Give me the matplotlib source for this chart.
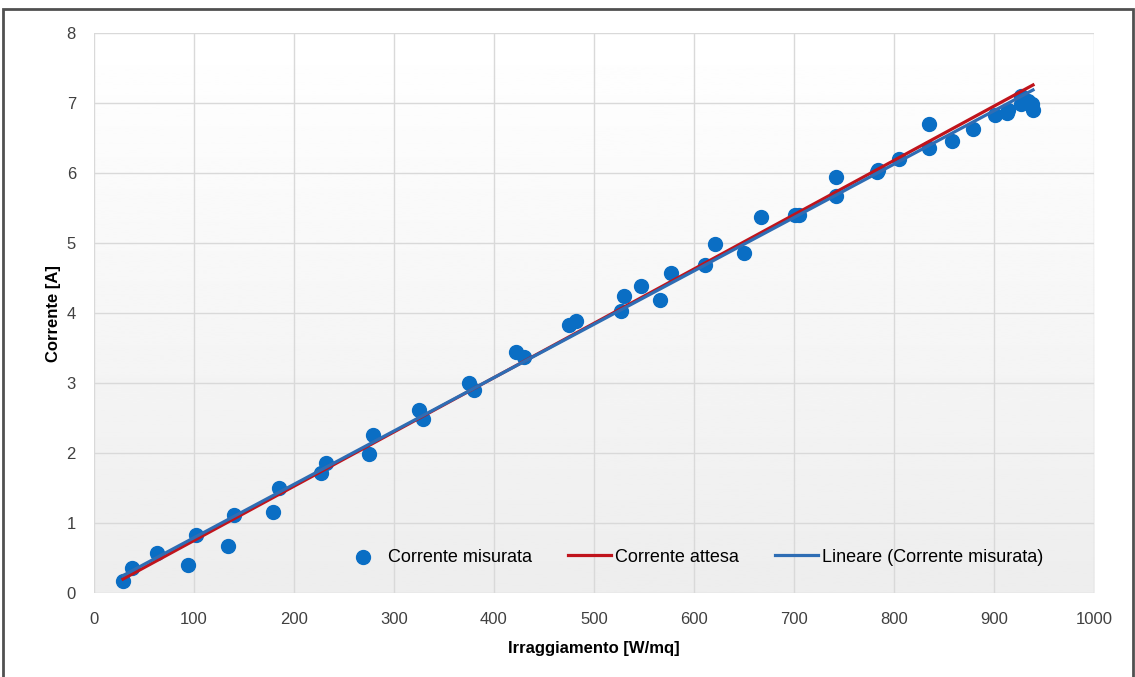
import numpy as np
import matplotlib.pyplot as plt
from matplotlib.patches import Rectangle

plt.rcParams['font.family'] = ['Liberation Sans', 'DejaVu Sans']

# Irraggiamento [W/mq] e corrente misurata [A]
irr = [29, 38, 63, 94, 102, 134, 140, 179, 185, 227, 232, 275, 279, 325, 329,
       375, 380, 422, 430, 475, 482, 527, 530, 547, 566, 577, 611, 621, 650,
       667, 701, 705, 742, 742, 783, 784, 805, 835, 835, 858, 879, 901, 913,
       914, 927, 927, 934, 938, 939]
corr = [0.17, 0.36, 0.57, 0.40, 0.83, 0.67, 1.11, 1.16, 1.50, 1.71, 1.86, 1.99,
        2.26, 2.61, 2.49, 3.00, 2.90, 3.44, 3.37, 3.83, 3.89, 4.03, 4.24, 4.39,
        4.19, 4.57, 4.69, 4.99, 4.86, 5.37, 5.40, 5.40, 5.67, 5.94, 6.01, 6.04,
        6.20, 6.36, 6.70, 6.46, 6.63, 6.83, 6.86, 6.90, 7.10, 6.99, 7.03, 6.99,
        6.90]

# corrente attesa (estremi della retta)
att_x = [29, 939]
att_y = [0.20, 7.26]

xticks = [0, 100, 200, 300, 400, 500, 600, 700, 800, 900, 1000]
yticks = [0, 1, 2, 3, 4, 5, 6, 7, 8]

fig = plt.figure(figsize=(11.35, 6.77), dpi=100)
ax = fig.add_axes([0.0828, 0.124, 0.8811, 0.827])

# sfondo sfumato (bianco in alto, grigio in basso)
grad = np.linspace(1.0, 0.93, 256).reshape(-1, 1)
ax.imshow(grad, cmap='gray', vmin=0, vmax=1, aspect='auto',
          extent=[0, 1, 0, 1], transform=ax.transAxes, zorder=0)

ax.set_xlim(0, 1000)
ax.set_ylim(0, 8)
ax.set_xticks(xticks)
ax.set_yticks(yticks)
ax.grid(True, color='#d9d9d9', linewidth=1)
ax.set_axisbelow(True)
for s in ax.spines.values():
    s.set_visible(False)
ax.tick_params(length=0, labelsize=12, colors='#404040')
ax.tick_params(axis='x', pad=14)
ax.tick_params(axis='y', pad=13)

ax.scatter(irr, corr, s=100, color='#0a6ec4', zorder=3, label='Corrente misurata')
ax.plot(att_x, att_y, color='#c0141c', linewidth=2.3, zorder=4, label='Corrente attesa')

# linea di tendenza
k, q = np.polyfit(irr, corr, 1)
xs = np.array([min(irr), max(irr)])
ax.plot(xs, k * xs + q, color='#2e6db4', linewidth=2.3, zorder=5,
        label='Lineare (Corrente misurata)')

ax.set_xlabel('Irraggiamento [W/mq]', fontsize=12, fontweight='bold', labelpad=10)
ax.set_ylabel('Corrente [A]', fontsize=12, fontweight='bold', labelpad=4)

ax.legend(loc='lower center', bbox_to_anchor=(0.598, 0.02), ncol=3, frameon=False,
          fontsize=13, handlelength=2.4, columnspacing=2.0, handletextpad=0.2)

fig.add_artist(Rectangle((0.003, -0.01), 0.995, 0.997, transform=fig.transFigure,
                         fill=False, edgecolor='#505050', linewidth=2))

fig.savefig('out.png', dpi=100)
